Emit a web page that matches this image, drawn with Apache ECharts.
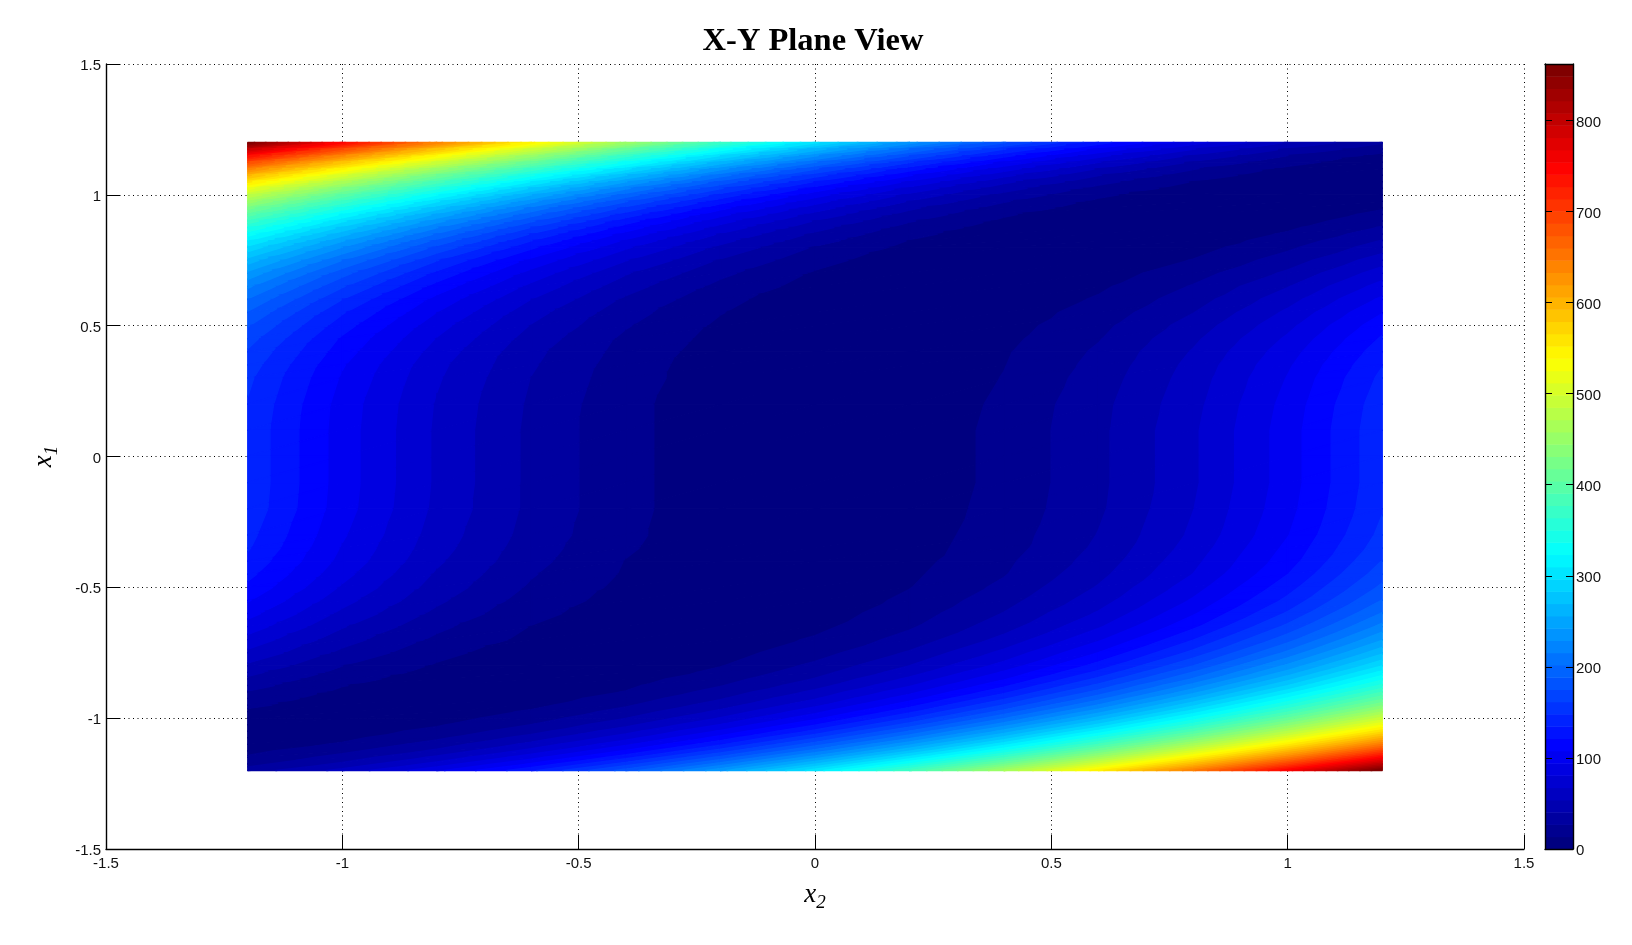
<!DOCTYPE html>
<html>
<head>
<meta charset="utf-8">
<style>html,body{margin:0;padding:0;background:#fff}#c{width:1632px;height:945px}</style>
<script src="https://cdn.jsdelivr.net/npm/echarts@6/dist/echarts.min.js"></script>
</head>
<body>
<div id="c"></div>
<script>
// Field levels estimated from the picture's colours against its colour bar.
const titleText = 'X-Y Plane View';
const axisTicks = [-1.5, -1, -0.5, 0, 0.5, 1, 1.5];
const colorBarTicks = [0, 100, 200, 300, 400, 500, 600, 700, 800];
const colorBarMax = 862;
const colorCount = 64;
const x2Grid = [-1.2, -1, -0.8, -0.6, -0.4, -0.2, 0, 0.2, 0.4, 0.6, 0.8, 1, 1.2];
const x1Grid = [1.2, 1.175, 1.15, 1.125, 1.1, 1.075, 1.05, 1.025, 1, 0.975, 0.95, 0.925, 0.9, 0.875, 0.85, 0.825, 0.8,
  0.75, 0.7, 0.65, 0.6, 0.55, 0.5, 0.45, 0.4, 0.35, 0.3, 0.2, 0.1, 0, -0.1, -0.2, -0.3, -0.35, -0.4, -0.45, -0.5, -0.55, -0.6, -0.65, -0.7, -0.75,
  -0.8, -0.825, -0.85, -0.875, -0.9, -0.925, -0.95, -0.975, -1, -1.025, -1.05, -1.075, -1.1, -1.125, -1.15, -1.175, -1.2];
const fieldValues = [
  [857,744,639,542,453,372,299,234,176,127,86,53,28],
  [797,688,587,494,409,332,263,202,149,105,68,39,18],
  [740,636,539,450,369,296,231,175,126,85,52,27,10],
  [688,587,495,410,333,264,203,150,105,68,39,18,5],
  [641,543,454,373,300,234,177,128,87,53,28,11,2],
  [596,503,417,339,270,208,154,109,71,41,20,6,0],
  [556,466,383,309,243,184,134,92,57,31,13,2,0],
  [518,431,352,281,218,163,116,77,46,23,8,1,2],
  [484,400,324,256,196,144,100,64,36,16,4,0,4],
  [452,371,298,233,176,127,86,53,28,11,2,1,7],
  [423,345,275,212,158,112,74,43,21,7,0,2,12],
  [397,321,253,194,142,98,63,35,15,4,0,4,17],
  [372,299,234,177,127,86,53,28,11,2,1,7,22],
  [350,279,216,161,115,76,45,22,7,1,2,11,28],
  [329,261,200,147,103,66,38,17,5,0,4,15,34],
  [310,244,185,135,92,58,32,13,3,0,6,19,41],
  [293,229,172,124,83,51,26,10,1,1,8,24,47],
  [263,202,149,104,68,39,18,5,0,3,14,33,61],
  [238,180,131,89,55,30,12,2,0,7,21,43,74],
  [218,163,116,77,46,23,8,1,2,11,28,53,86],
  [201,148,103,67,38,17,5,0,3,15,34,62,97],
  [187,136,94,59,32,14,3,0,6,19,40,70,107],
  [176,127,86,53,28,11,2,1,8,23,46,77,116],
  [167,119,80,48,24,9,1,1,10,26,51,83,123],
  [160,114,75,44,22,7,1,2,12,29,55,88,129],
  [155,109,71,42,20,6,1,3,13,31,58,92,134],
  [151,106,69,40,19,6,1,3,14,33,60,95,138],
  [147,102,66,38,17,5,1,4,16,36,63,99,143],
  [145,101,65,37,17,5,1,5,17,37,65,101,145],
  [145,101,65,37,17,5,1,5,17,37,65,101,145],
  [145,101,65,37,17,5,1,5,17,37,65,101,145],
  [144,100,64,37,17,5,1,6,18,38,67,103,147],
  [139,96,61,35,16,5,2,7,20,41,70,107,152],
  [136,93,59,33,15,4,2,8,21,43,73,111,156],
  [131,90,56,31,13,4,2,9,24,46,77,115,162],
  [125,85,52,28,12,3,3,11,26,50,81,121,169],
  [118,79,48,25,10,3,4,13,30,55,88,129,178],
  [109,72,43,21,8,3,5,16,35,61,96,138,189],
  [99,64,37,17,6,3,7,20,41,69,106,150,203],
  [88,55,30,13,4,3,10,25,48,79,118,165,220],
  [76,46,24,10,3,5,15,32,58,92,134,183,241],
  [64,37,17,6,3,8,21,42,71,108,152,205,266],
  [51,27,12,4,5,13,30,54,86,127,175,232,296],
  [44,23,9,4,6,16,35,61,96,138,189,247,314],
  [38,18,7,3,8,21,41,70,106,151,203,264,333],
  [32,14,5,4,11,26,48,79,118,165,220,282,353],
  [26,11,4,5,14,32,57,90,131,180,237,303,376],
  [20,8,4,7,19,39,66,102,146,197,257,325,400],
  [16,6,4,10,25,47,77,116,162,216,279,349,427],
  [11,4,6,15,32,57,90,131,180,237,302,375,456],
  [8,4,8,20,40,68,104,148,200,260,328,404,488],
  [6,5,12,27,50,81,120,167,222,285,356,436,523],
  [4,7,17,35,62,96,138,189,247,313,387,470,560],
  [5,10,24,46,75,113,159,212,274,344,421,507,601],
  [6,15,33,58,91,132,182,239,304,377,459,548,645],
  [10,23,43,72,109,154,207,268,337,414,499,592,693],
  [15,32,57,89,130,179,236,301,374,454,543,640,745],
  [22,43,72,109,154,207,268,337,414,498,591,692,801],
  [33,58,91,132,181,238,303,376,458,547,644,749,862]
];
const jetKnots = [0, 1/8, 3/8, 5/8, 7/8, 1];
const jetColors = [[0,0,128],[0,0,255],[0,255,255],[255,255,0],[255,0,0],[128,0,0]];

function jet(t) {
  t = Math.max(0, Math.min(1, t));
  let i = 0;
  while (i < jetKnots.length - 2 && t > jetKnots[i + 1]) i++;
  const f = (t - jetKnots[i]) / (jetKnots[i + 1] - jetKnots[i]);
  const c = jetColors[i].map((a, k) => Math.round(a + (jetColors[i + 1][k] - a) * f));
  return 'rgb(' + c.join(',') + ')';
}
// Keep the part of a polygon of [x2, x1, value] vertices on one side of a level.
function clipLevel(poly, level, keepAbove) {
  const out = [];
  for (let n = 0; n < poly.length; n++) {
    const a = poly[n], b = poly[(n + 1) % poly.length];
    const ina = keepAbove ? a[2] >= level : a[2] <= level;
    const inb = keepAbove ? b[2] >= level : b[2] <= level;
    if (ina) out.push(a);
    if (ina !== inb) {
      const f = (level - a[2]) / (b[2] - a[2]);
      out.push([a[0] + (b[0] - a[0]) * f, a[1] + (b[1] - a[1]) * f, level]);
    }
  }
  return out;
}
function bandPolygons(tri, api) {
  const step = colorBarMax / colorCount;
  const vals = tri.map(p => p[2]);
  const k0 = Math.min(colorCount - 1, Math.floor(Math.min(...vals) / step));
  const k1 = Math.min(colorCount - 1, Math.floor(Math.max(...vals) / step));
  const shapes = [];
  for (let k = k0; k <= k1; k++) {
    let poly = tri;
    if (k > 0) poly = clipLevel(poly, k * step, true);
    if (poly.length > 2 && k < colorCount - 1) poly = clipLevel(poly, (k + 1) * step, false);
    if (poly.length < 3) continue;
    const color = jet(k / (colorCount - 1));
    shapes.push({
      type: 'polygon',
      shape: { points: poly.map(p => api.coord([p[0], p[1]])) },
      style: { fill: color, stroke: color, lineWidth: 1.4, lineJoin: 'round' }
    });
  }
  return shapes;
}
const fieldCells = [];
x1Grid.slice(0, -1).forEach((x1, i) => x2Grid.slice(0, -1).forEach((x2, j) => fieldCells.push([x2, x1, i, j])));

const axisFont = { fontFamily: 'Liberation Sans', fontSize: 15, color: '#111' };
const blackLine = { color: '#000', width: 1.4 };
const labelStyle = {
  i: { fontFamily: 'Liberation Serif', fontStyle: 'italic', fontSize: 27, color: '#000', lineHeight: 30 },
  s: { fontFamily: 'Liberation Serif', fontStyle: 'italic', fontSize: 19, color: '#000', padding: [15, 0, 0, 0] }
};
const mainAxis = {
  type: 'value', min: -1.5, max: 1.5, interval: 0.5,
  axisLine: { show: true, onZero: false, lineStyle: blackLine },
  axisTick: { show: true, inside: true, length: 14, lineStyle: { color: '#000', width: 1 } },
  axisLabel: Object.assign({ formatter: v => String(+v.toFixed(1)), showMinLabel: true, showMaxLabel: true, hideOverlap: false }, axisFont),
  splitLine: { show: true, lineStyle: { color: '#000', width: 1, type: [1, 3.5] } }
};
const chart = echarts.init(document.getElementById('c'), null, { renderer: 'canvas' });
chart.setOption({
  animation: false,
  backgroundColor: '#fff',
  title: {
    text: titleText, left: 808, top: 20, textAlign: 'center',
    textStyle: { fontFamily: 'Liberation Serif', fontWeight: 'bold', fontSize: 32.5, color: '#000' }
  },
  grid: [
    { left: 106, top: 64, width: 1418, height: 785 },
    { left: 1545, top: 64, width: 28, height: 785 }
  ],
  xAxis: [
    Object.assign({}, mainAxis, {
      gridIndex: 0, position: 'bottom', name: '{i|x}{s|2}', nameLocation: 'middle', nameGap: 29,
      nameTextStyle: { rich: labelStyle },
      axisLabel: Object.assign({}, mainAxis.axisLabel, { margin: 7 })
    }),
    { type: 'value', gridIndex: 1, position: 'bottom', min: 0, max: 1, axisLine: { show: true, onZero: false, lineStyle: blackLine }, axisTick: { show: false }, axisLabel: { show: false }, splitLine: { show: false }, z: 5 },
    { type: 'value', gridIndex: 1, position: 'top', min: 0, max: 1, axisLine: { show: true, onZero: false, lineStyle: blackLine }, axisTick: { show: false }, axisLabel: { show: false }, splitLine: { show: false }, z: 5 }
  ],
  yAxis: [
    Object.assign({}, mainAxis, {
      gridIndex: 0, position: 'left', name: '{i|x}{s|1}', nameLocation: 'middle', nameGap: 45, nameRotate: 90,
      nameTextStyle: { rich: labelStyle },
      axisLabel: Object.assign({}, mainAxis.axisLabel, { margin: 5, verticalAlign: 'top', lineHeight: 4 })
    }),
    {
      type: 'value', gridIndex: 1, position: 'right', min: 0, max: colorBarMax, interval: 100, z: 5,
      axisLine: { show: true, onZero: false, lineStyle: blackLine },
      axisTick: { show: true, inside: true, length: 7, lineStyle: { color: '#000', width: 1 }, customValues: colorBarTicks.slice(1) },
      axisLabel: Object.assign({ margin: 3, customValues: colorBarTicks, verticalAlign: 'top', lineHeight: 4 }, axisFont),
      splitLine: { show: false }
    },
    {
      type: 'value', gridIndex: 1, position: 'left', min: 0, max: colorBarMax, interval: 100, z: 5,
      axisLine: { show: true, onZero: false, lineStyle: blackLine },
      axisTick: { show: true, inside: true, length: 7, lineStyle: { color: '#000', width: 1 }, customValues: colorBarTicks.slice(1) },
      axisLabel: { show: false },
      splitLine: { show: false }
    }
  ],
  series: [
    {
      type: 'custom', coordinateSystem: 'cartesian2d', xAxisIndex: 0, yAxisIndex: 0, silent: true,
      data: fieldCells,
      encode: { x: 0, y: 1 },
      renderItem(params, api) {
        const i = api.value(2), j = api.value(3);
        const A = [x2Grid[j], x1Grid[i], fieldValues[i][j]];
        const B = [x2Grid[j + 1], x1Grid[i], fieldValues[i][j + 1]];
        const C = [x2Grid[j + 1], x1Grid[i + 1], fieldValues[i + 1][j + 1]];
        const D = [x2Grid[j], x1Grid[i + 1], fieldValues[i + 1][j]];
        return {
          type: 'group',
          children: bandPolygons([D, A, B], api).concat(bandPolygons([D, B, C], api))
        };
      }
    },
    {
      type: 'custom', coordinateSystem: 'cartesian2d', xAxisIndex: 1, yAxisIndex: 1, silent: true, z: 2,
      data: Array.from({ length: colorCount }, (_, i) => [0, i]),
      encode: { x: 0, y: 1 },
      renderItem(params, api) {
        const i = api.value(1);
        const p0 = api.coord([0, (i + 1) * colorBarMax / colorCount]);
        const p1 = api.coord([1, i * colorBarMax / colorCount]);
        return {
          type: 'rect',
          shape: { x: p0[0], y: p0[1], width: p1[0] - p0[0], height: p1[1] - p0[1] + 0.5 },
          style: { fill: jet(i / (colorCount - 1)) }
        };
      }
    }
  ]
});
</script>
</body>
</html>
